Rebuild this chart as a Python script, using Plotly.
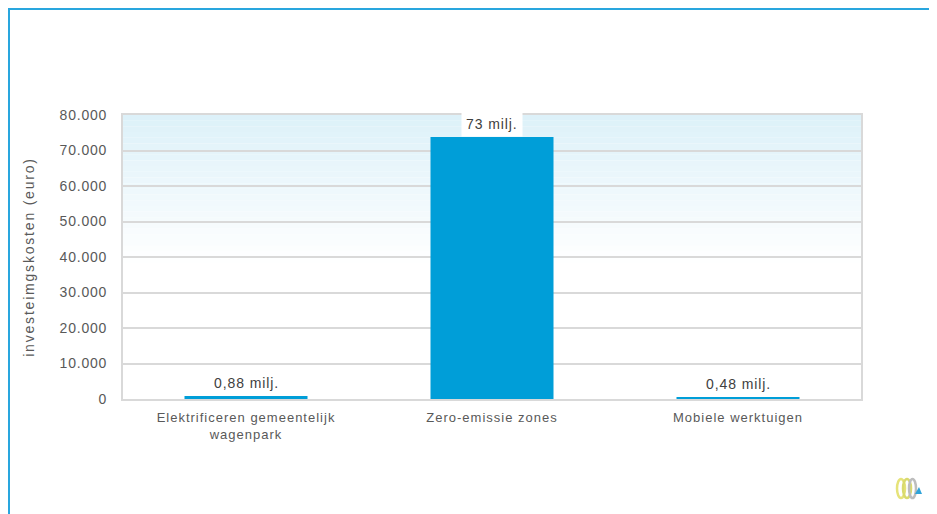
import plotly.graph_objects as go

categories = ["Elektrificeren gemeentelijk<br>wagenpark", "Zero-emissie zones", "Mobiele werktuigen"]
values = [880, 73800, 480]
value_labels = ["0,88 milj.", "73 milj.", "0,48 milj."]
tick_vals = [0, 10000, 20000, 30000, 40000, 50000, 60000, 70000, 80000]
tick_text = ["0", "10.000", "20.000", "30.000", "40.000", "50.000", "60.000", "70.000", "80.000"]
y_title = "investeimgskosten (euro)"

W, H = 937, 514
L, R, T, B = 115, 84, 107, 123
FONT = "Liberation Sans, Arial, sans-serif"


def spaced(s, ls):
    return '<span style="letter-spacing:%spx">%s</span>' % (ls, s)


fig = go.Figure()
fig.add_trace(go.Bar(x=categories, y=values, marker=dict(color="#009ED8", line=dict(width=0)),
                     width=0.5, hoverinfo="skip"))

shapes = []
# gradient background in plot area (top light blue -> white)
n = 50
top = (221, 241, 249)
for i in range(n):
    y0 = 1 - (i + 1) / n
    y1 = 1 - i / n
    t = i / (n - 1)
    f = min(1.0, t / 0.52)
    c = tuple(int(round(top[k] + (255 - top[k]) * f)) for k in range(3))
    shapes.append(dict(type="rect", xref="paper", yref="paper", x0=0, x1=1, y0=y0, y1=y1,
                       fillcolor="rgb(%d,%d,%d)" % c, line=dict(width=0), layer="below"))
# outer blue frame
px = lambda v: (v - L) / (W - L - R)
py = lambda v: (H - B - v) / (H - T - B)
shapes.append(dict(type="rect", xref="paper", yref="paper", x0=px(1), x1=px(W + 20),
                   y0=py(H + 20), y1=py(1), line=dict(color="#29A6DE", width=2), fillcolor="rgba(0,0,0,0)"))

# small logo (bottom right)
for (a, b, col) in [(889, 897, "#E6E37A"), (895, 903, "#D9DA6E"), (901, 908, "#BDBDBD")]:
    shapes.append(dict(type="circle", xref="paper", yref="paper", x0=px(a), x1=px(b),
                       y0=py(490), y1=py(471), line=dict(color=col, width=2.5), fillcolor="rgba(0,0,0,0)"))
shapes.append(dict(type="path", xref="paper", yref="paper",
                   path="M %f %f L %f %f L %f %f Z" % (px(907), py(486), px(914), py(486), px(911), py(479)),
                   fillcolor="#2FA3D9", line=dict(width=0)))

annotations = []
for c, v, lab in zip(categories, values, value_labels):
    annotations.append(dict(x=c, y=v, xref="x", yref="y", text=spaced(lab, 0.9), showarrow=False,
                            yanchor="bottom", yshift=0, bgcolor="white", borderpad=4,
                            font=dict(family=FONT, size=14, color="#404040")))

fig.update_layout(
    width=W, height=H,
    margin=dict(l=L, r=R, t=T, b=B, autoexpand=False),
    paper_bgcolor="white", plot_bgcolor="rgba(0,0,0,0)",
    showlegend=False, shapes=shapes, annotations=annotations,
    font=dict(family=FONT, size=13, color="#595959"),
)
fig.update_xaxes(tickvals=categories, ticktext=[spaced(c, 1) for c in categories],
                 showline=True, linecolor="#D9D9D9", linewidth=2, mirror=True,
                 showgrid=False, ticks="outside", ticklen=5, tickcolor="rgba(0,0,0,0)",
                 tickfont=dict(family=FONT, size=13, color="#595959"), automargin=False)
fig.update_yaxes(range=[0, 80000], tickvals=tick_vals, ticktext=[spaced(t, 0.8) for t in tick_text],
                 showline=True, linecolor="#D9D9D9", linewidth=2, mirror=True,
                 showgrid=True, gridcolor="#D9D9D9", gridwidth=1.5, zeroline=False,
                 ticks="outside", ticklen=11, tickcolor="rgba(0,0,0,0)",
                 tickfont=dict(family=FONT, size=14, color="#595959"),
                 title=dict(text=spaced(y_title, 1.8), standoff=22, font=dict(family=FONT, size=14, color="#595959")),
                 automargin=False)

fig.write_html("out.html")
